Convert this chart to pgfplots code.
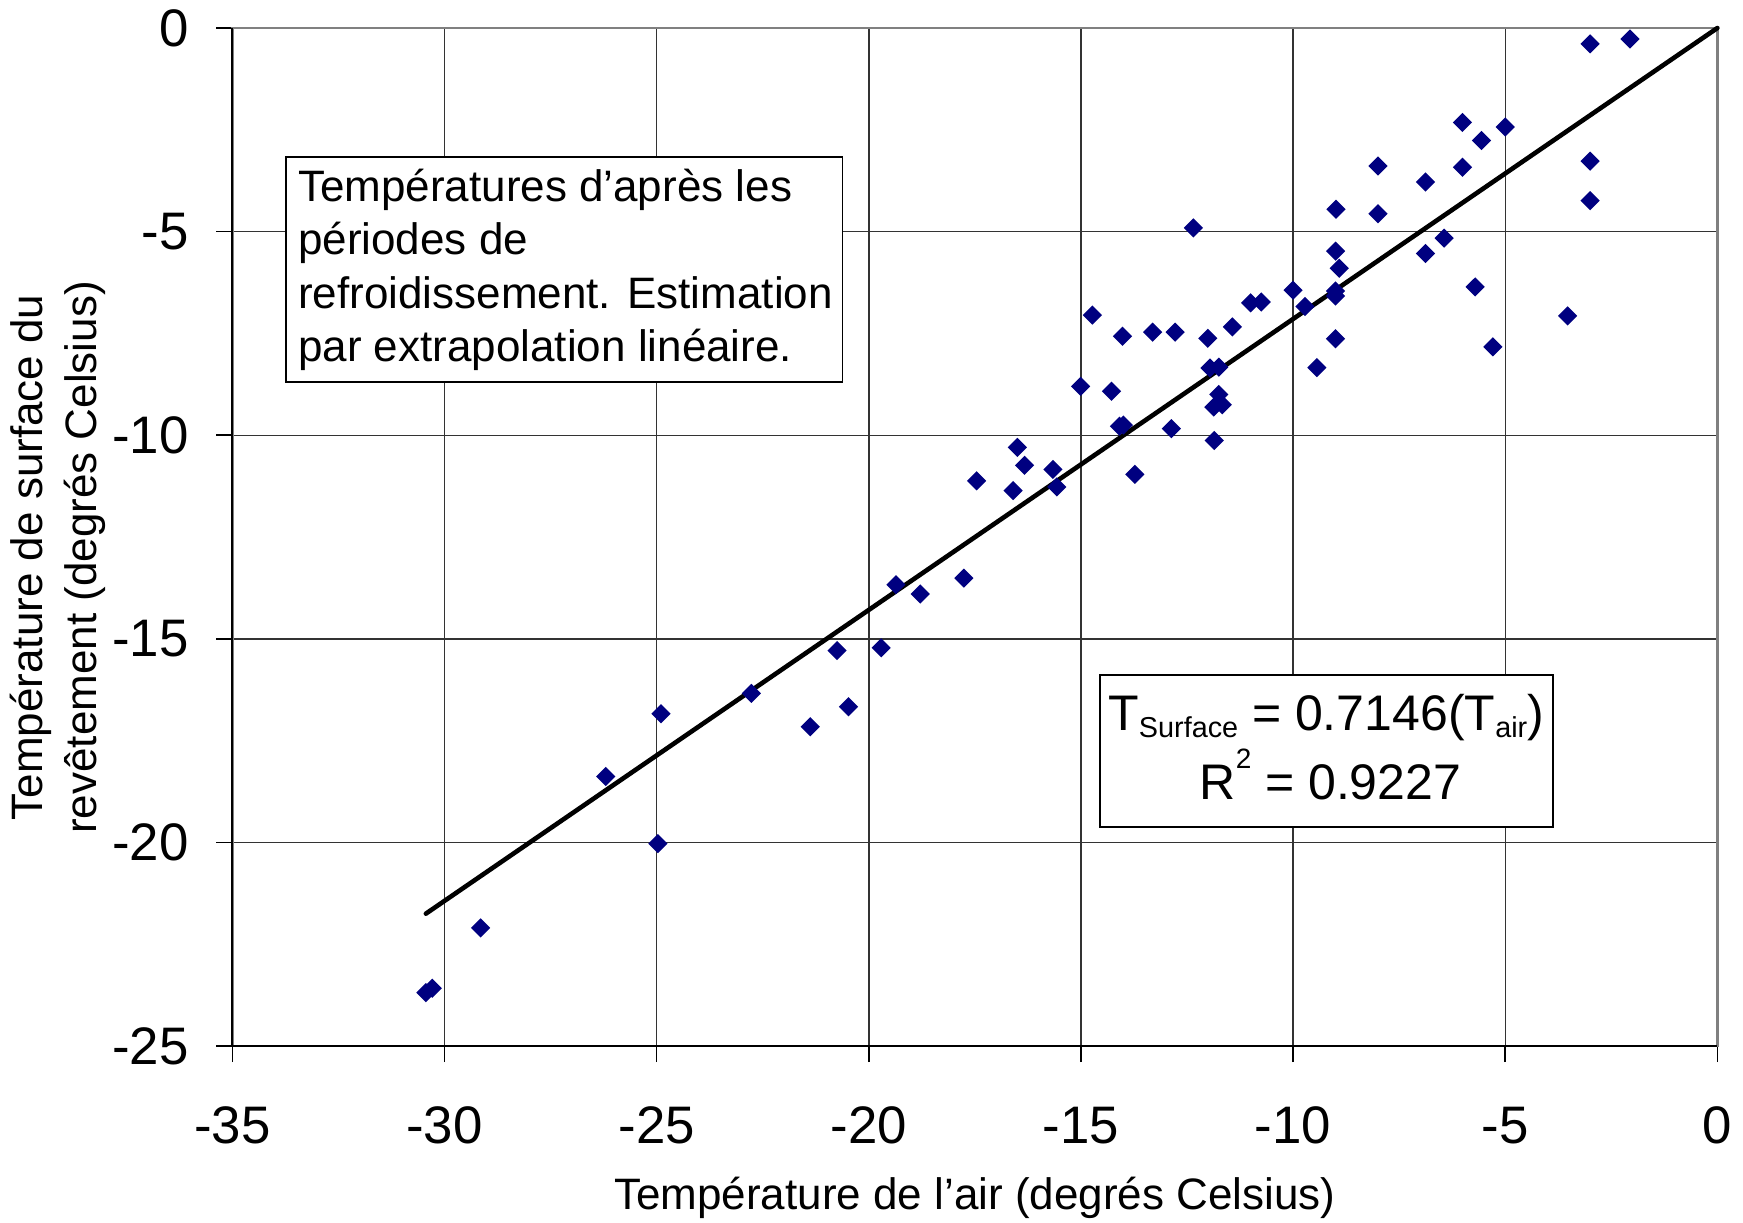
\documentclass[border=0pt]{standalone}
\usepackage{fontspec}
\setmainfont{Liberation Sans}
\usepackage{pgfplots}
\pgfplotsset{compat=1.18}

\definecolor{pts}{RGB}{0,0,128}

\begin{document}
\begin{tikzpicture}
% fixed page size around the axis box (axis south west at the origin)
\useasboundingbox (-58.1pt,-44pt) rectangle (377.65pt,261.5pt);
\begin{axis}[
  at={(0,0)}, anchor=south west,
  scale only axis, width=371.25pt, height=254.5pt,
  xmin=-35, xmax=0, ymin=-25, ymax=0,
  xtick={-35,-30,...,0}, ytick={-25,-20,...,0},
  /pgf/number format/assume math mode=true,
  tick label style={font=\fontsize{13.2}{13.2}\selectfont, inner sep=0pt},
  xticklabel style={yshift=-11pt},
  yticklabel style={xshift=-6.8pt},
  tick align=outside, tick pos=left, major tick length=4pt,
  tick style={black, line width=0.4pt},
  grid=major, major grid style={black!80, line width=0.35pt},
  axis line style={gray, line width=0.6pt},
  xlabel={Température de l’air (degrés Celsius)},
  xlabel style={font=\fontsize{11}{13.5}\selectfont, inner sep=0pt, at={(axis description cs:0.5,0)}, anchor=base, yshift=-40.8pt},
  ylabel={Température de surface du\\revêtement (degrés Celsius)},
  ylabel style={font=\fontsize{11}{13.6}\selectfont, inner sep=0pt, align=center, at={(axis description cs:-0.1174,0.48)}, anchor=center},
  clip=false,
]
% regression line
\addplot[black, line width=1.15pt, line cap=round] coordinates {(-30.44,-21.75) (0,0)};

\addplot[only marks, mark=square*, mark size=1.5pt, mark options={rotate=45, fill=pts, draw=pts}] coordinates {
(-2.06,-0.27) (-3.00,-0.39) (-6.01,-2.32) (-5.00,-2.43) (-5.56,-2.76)
(-6.01,-3.42) (-8.00,-3.39) (-3.00,-3.27) (-6.88,-3.78) (-3.00,-4.24)
(-8.99,-4.45) (-8.00,-4.56) (-12.35,-4.91) (-6.44,-5.16) (-6.88,-5.54)
(-9.00,-5.48) (-8.91,-5.90) (-5.71,-6.36) (-10.00,-6.44) (-9.00,-6.46)
(-9.00,-6.58) (-9.72,-6.84) (-11.00,-6.75) (-10.75,-6.73) (-14.73,-7.05)
(-3.53,-7.07) (-11.43,-7.34) (-14.02,-7.57) (-13.31,-7.47) (-12.78,-7.47)
(-12.01,-7.62) (-9.00,-7.63) (-5.29,-7.83) (-11.96,-8.35) (-11.75,-8.33)
(-9.44,-8.34) (-15.01,-8.80) (-14.28,-8.92) (-11.75,-9.00) (-11.67,-9.25)
(-11.87,-9.31) (-14.09,-9.78) (-14.00,-9.75) (-12.87,-9.84) (-11.86,-10.13)
(-16.50,-10.30) (-16.33,-10.74) (-15.66,-10.84) (-13.73,-10.96) (-17.46,-11.12)
(-16.60,-11.36) (-15.57,-11.27) (-19.36,-13.67) (-17.76,-13.51) (-18.79,-13.90)
(-20.75,-15.29) (-19.71,-15.22) (-24.90,-16.84) (-22.77,-16.34) (-20.48,-16.67)
(-21.38,-17.16) (-26.20,-18.38) (-24.97,-20.03) (-29.15,-22.10) (-30.44,-23.69)
(-30.29,-23.58)
};

% black left and bottom axis lines
\draw[black, line width=0.5pt] (rel axis cs:0,1) -- (rel axis cs:0,0) -- (rel axis cs:1,0);

% note box
\draw[black, line width=0.45pt, fill=white] (axis cs:-33.74,-3.16) rectangle (axis cs:-20.62,-8.70);
\begin{scope}[every node/.style={anchor=base west, inner sep=0pt, font=\fontsize{11}{13.4}\selectfont}]
\node at (axis cs:-33.47,-4.25) {Températures d’après les};
\node at (axis cs:-33.47,-5.56) {périodes de};
\node at (axis cs:-33.47,-6.88) {refroidissement. Estimation};
\node at (axis cs:-33.47,-8.19) {par extrapolation linéaire.};
\end{scope}

% equation box
\draw[black, line width=0.45pt, fill=white] (axis cs:-14.56,-15.88) rectangle (axis cs:-3.88,-19.62);
\begin{scope}[every node/.style={anchor=base, inner sep=0pt, font=\fontsize{12.5}{15}\selectfont}]
\node at (axis cs:-9.22,-17.24) {T\raisebox{-1.8pt}{\fontsize{7.2}{7.2}\selectfont Surface} = 0.7146(T\raisebox{-1.8pt}{\fontsize{7.2}{7.2}\selectfont air})};
\node at (axis cs:-9.12,-18.95) {R\raisebox{7.9pt}{\fontsize{7}{7}\selectfont 2} = 0.9227};
\end{scope}
\end{axis}
\end{tikzpicture}
\end{document}
